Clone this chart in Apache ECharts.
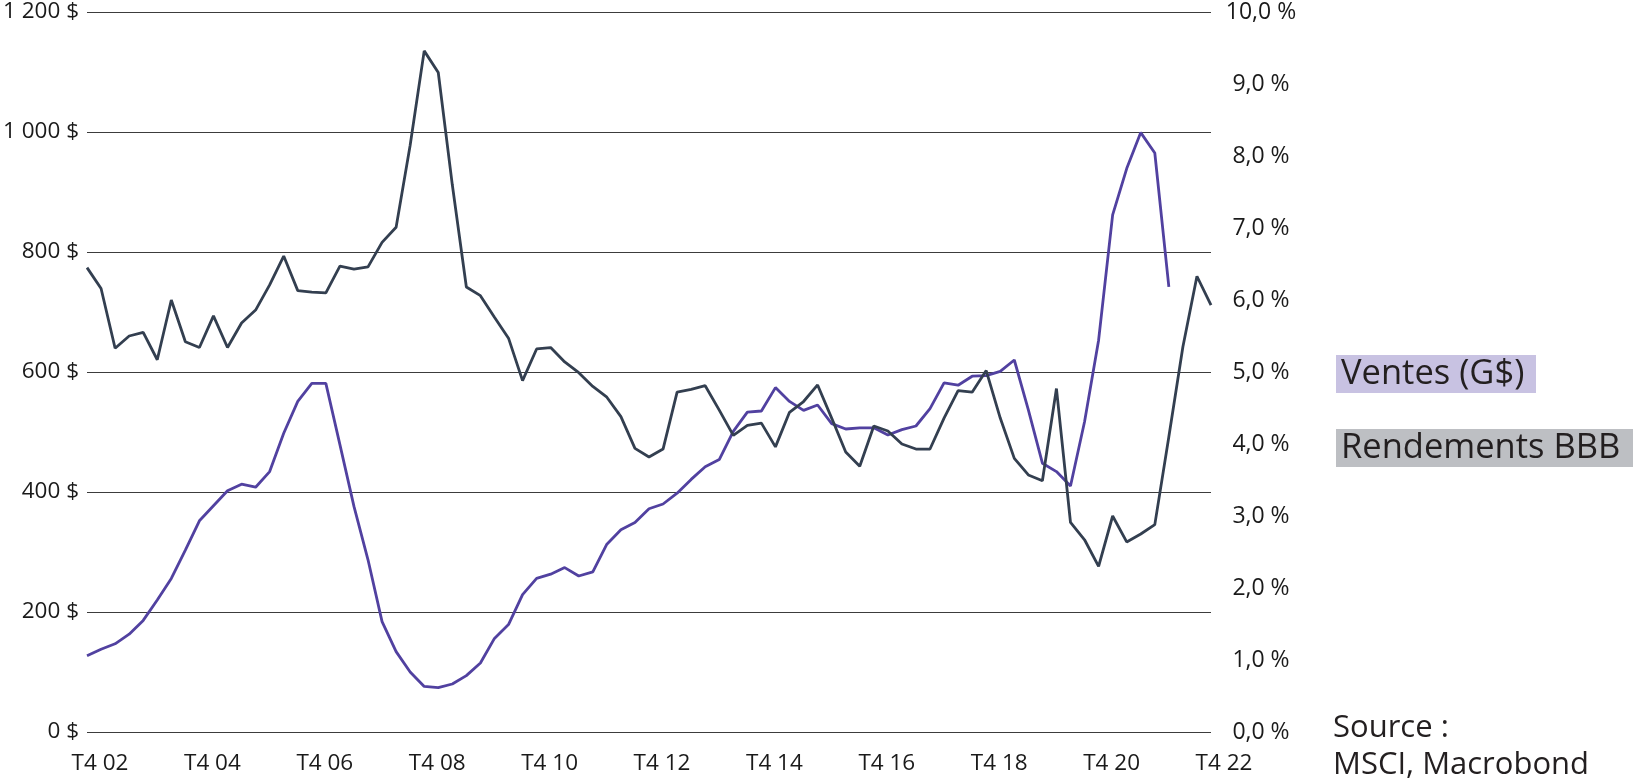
<!DOCTYPE html>
<html>
<head>
<meta charset="utf-8">
<script src="https://cdn.jsdelivr.net/npm/echarts@6/dist/echarts.min.js"></script>
<style>
html,body{margin:0;padding:0;background:#fff;}
#chart{width:1633px;height:780px;}
</style>
</head>
<body>
<div id="chart"></div>
<script>
const categories = [
  'T4 02',
  'T1 03','T2 03','T3 03','T4 03',
  'T1 04','T2 04','T3 04','T4 04',
  'T1 05','T2 05','T3 05','T4 05',
  'T1 06','T2 06','T3 06','T4 06',
  'T1 07','T2 07','T3 07','T4 07',
  'T1 08','T2 08','T3 08','T4 08',
  'T1 09','T2 09','T3 09','T4 09',
  'T1 10','T2 10','T3 10','T4 10',
  'T1 11','T2 11','T3 11','T4 11',
  'T1 12','T2 12','T3 12','T4 12',
  'T1 13','T2 13','T3 13','T4 13',
  'T1 14','T2 14','T3 14','T4 14',
  'T1 15','T2 15','T3 15','T4 15',
  'T1 16','T2 16','T3 16','T4 16',
  'T1 17','T2 17','T3 17','T4 17',
  'T1 18','T2 18','T3 18','T4 18',
  'T1 19','T2 19','T3 19','T4 19',
  'T1 20','T2 20','T3 20','T4 20',
  'T1 21','T2 21','T3 21','T4 21',
  'T1 22','T2 22','T3 22','T4 22'
];

// Ventes (G$) - left axis
const ventes = [
  127, 138, 147, 163, 186, 220, 256, 303, 352, 377,
  402, 413, 408, 434, 498, 551, 581, 581, 479, 376,
  287, 184, 134, 100, 76, 74, 80, 94, 115, 156,
  179, 229, 256, 263, 274, 260, 267, 313, 337, 349,
  372, 380, 398, 421, 442, 454, 501, 533, 535, 574,
  551, 536, 545, 514, 505, 507, 507, 495, 504, 510,
  539, 582, 578, 593, 594, 601, 620, 537, 448, 434,
  410, 517, 653, 862, 939, 999, 965, 742
];

// Rendements BBB (%) - right axis
const rendements = [
  6.45, 6.16, 5.33, 5.50, 5.55, 5.17, 6.00, 5.42, 5.34, 5.78,
  5.34, 5.68, 5.86, 6.21, 6.61, 6.13, 6.11, 6.10, 6.47, 6.43,
  6.46, 6.80, 7.01, 8.15, 9.46, 9.16, 7.60, 6.18, 6.06, 5.76,
  5.47, 4.88, 5.32, 5.34, 5.14, 4.99, 4.80, 4.65, 4.38, 3.94,
  3.82, 3.93, 4.72, 4.76, 4.81, 4.47, 4.12, 4.26, 4.29, 3.96,
  4.44, 4.59, 4.82, 4.36, 3.89, 3.69, 4.25, 4.18, 4.00, 3.93,
  3.93, 4.36, 4.74, 4.72, 5.02, 4.36, 3.80, 3.57, 3.49, 4.77,
  2.91, 2.67, 2.30, 3.00, 2.64, 2.75, 2.88, 4.10, 5.35, 6.33,
  5.93
];

const leftTicks = [0, 200, 400, 600, 800, 1000, 1200];
const rightTicks = [0, 1, 2, 3, 4, 5, 6, 7, 8, 9, 10];
const legendNames = ['Ventes (G$)', 'Rendements BBB'];
const sourceLines = ['Source :', 'MSCI, Macrobond'];

const FONT = '"Open Sans", "Noto Sans", sans-serif';
const TXT = '#1a1a1a';

const chart = echarts.init(document.getElementById('chart'), null, {renderer: 'canvas'});

function fmtDollar(v) {
  const s = String(Math.round(v)).replace(/\B(?=(\d{3})+(?!\d))/g, ' ');
  return s + ' $';
}
function fmtPct(v) {
  return v.toFixed(1).replace('.', ',') + ' %';
}

const option = {
  animation: false,
  backgroundColor: '#ffffff',
  textStyle: {fontFamily: FONT},
  grid: {left: 81, right: 1633 - 1211, top: 12, bottom: 780 - 732, containLabel: false},
  xAxis: {
    type: 'category',
    data: categories,
    boundaryGap: false,
    axisLine: {show: false},
    axisTick: {show: false},
    splitLine: {show: false},
    axisLabel: {
      interval: 7,
      margin: 20,
      color: TXT,
      fontFamily: FONT,
      fontSize: 22.5,
      padding: [0, 0, 0, 26]
    }
  },
  yAxis: [
    {
      type: 'value',
      min: leftTicks[0],
      max: leftTicks[leftTicks.length - 1],
      interval: 200,
      position: 'left',
      axisLine: {show: false},
      axisTick: {show: false},
      splitLine: {show: true, lineStyle: {color: '#3c3c3c', width: 1}},
      axisLabel: {
        margin: 8,
        color: TXT,
        fontFamily: FONT,
        fontSize: 22.5,
        formatter: fmtDollar
      }
    },
    {
      type: 'value',
      min: rightTicks[0],
      max: rightTicks[rightTicks.length - 1],
      interval: 1,
      position: 'right',
      axisLine: {show: false},
      axisTick: {show: false},
      splitLine: {show: false},
      axisLabel: {
        margin: 50,
        align: 'center',
        color: TXT,
        fontFamily: FONT,
        fontSize: 23,
        formatter: fmtPct
      }
    }
  ],
  series: [
    {
      name: legendNames[0],
      type: 'line',
      yAxisIndex: 0,
      data: ventes,
      symbol: 'none',
      smooth: false,
      lineStyle: {color: '#5141a0', width: 2.8},
      itemStyle: {color: '#5141a0'},
      z: 2
    },
    {
      name: legendNames[1],
      type: 'line',
      yAxisIndex: 1,
      data: rendements,
      symbol: 'none',
      smooth: false,
      lineStyle: {color: '#333f50', width: 2.8},
      itemStyle: {color: '#333f50'},
      z: 3
    }
  ],
  graphic: [
    {
      type: 'rect',
      left: 1336, top: 355,
      shape: {width: 200, height: 38},
      style: {fill: '#c8c2e2'}
    },
    {
      type: 'text',
      left: 1341, top: 355,
      style: {text: legendNames[0], fill: '#231f20', font: '34.5px ' + FONT, lineHeight: 38}
    },
    {
      type: 'rect',
      left: 1336, top: 429,
      shape: {width: 297, height: 38},
      style: {fill: '#bdbfc3'}
    },
    {
      type: 'text',
      left: 1341, top: 429,
      style: {text: legendNames[1], fill: '#231f20', font: '34.5px ' + FONT, lineHeight: 38}
    },
    {
      type: 'text',
      left: 1333, top: 710,
      style: {text: sourceLines.join('\n'), fill: '#231f20', font: '31px ' + FONT, lineHeight: 37}
    }
  ]
};

chart.setOption(option);
</script>
</body>
</html>
